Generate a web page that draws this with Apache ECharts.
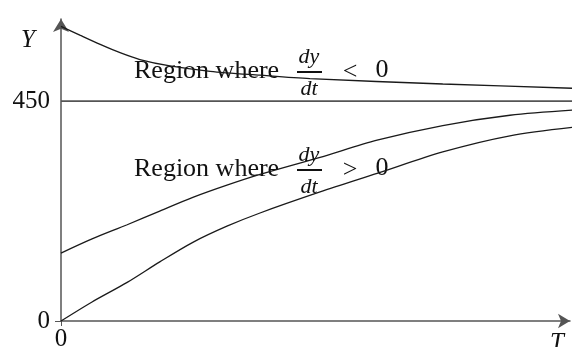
<!DOCTYPE html>
<html>
<head>
<meta charset="utf-8">
<script src="https://cdn.jsdelivr.net/npm/echarts@6/dist/echarts.min.js"></script>
<style>
  html, body { margin: 0; padding: 0; background: #fff; }
  #chart { width: 576px; height: 347px; }
</style>
</head>
<body>
<div id="chart"></div>
<script>
// 曲线数据 (t, y)
const tAbove = [0, 3.7, 7.7, 11.6, 15.5, 21.4, 29.3, 39.1, 48.9, 75, 101.2]
const yAbove = [603, 585, 566, 549, 535, 522, 511, 503, 496, 485, 476]
const tBelow = [0, 6.1, 13, 19.4, 25.9, 32.6, 39.1, 50.9, 62.1, 75, 88.2, 101.2]
const yMiddle = [139, 168, 197, 225, 253, 278, 300, 335, 370, 400, 421, 432]
const yLower = [0, 39, 79, 121, 161, 194, 221, 264, 302, 346, 379, 397]
const equilibrium = 450
const yTicks = [0, 450]
const xTicks = [0]

const serif = '"Liberation Serif", "DejaVu Serif", serif'
const zip = (xs, ys) => xs.map((x, i) => [x, ys[i]])

const chartInstance = echarts.init(document.getElementById('chart'))

const curve = (name, data) => ({
  name,
  type: 'line',
  data,
  smooth: 0.3,
  symbol: 'none',
  clip: false,
  lineStyle: { color: '#1a1a1a', width: 1.3 }
})

// 区域说明文字 (分数 dy/dt)
const regionLabel = (cy, sign) => ({
  type: 'group',
  children: [
    { type: 'text', x: 134, y: cy - 1, style: { text: 'Region where', font: '26px ' + serif, fill: '#111', verticalAlign: 'middle' } },
    { type: 'text', x: 309, y: cy - 15, style: { text: 'dy', font: 'italic 22px ' + serif, fill: '#111', align: 'center', verticalAlign: 'middle' } },
    { type: 'line', shape: { x1: 297, y1: cy, x2: 322, y2: cy }, style: { stroke: '#111', lineWidth: 2 } },
    { type: 'text', x: 309, y: cy + 17, style: { text: 'dt', font: 'italic 22px ' + serif, fill: '#111', align: 'center', verticalAlign: 'middle' } },
    { type: 'text', x: 350, y: cy, style: { text: sign, font: '26px ' + serif, fill: '#111', align: 'center', verticalAlign: 'middle' } },
    { type: 'text', x: 382, y: cy - 2, style: { text: '0', font: '26px ' + serif, fill: '#111', align: 'center', verticalAlign: 'middle' } }
  ]
})

const option = {
  animation: false,
  backgroundColor: '#fff',
  grid: { left: 61, right: 6, top: 19, bottom: 26, containLabel: false, outerBoundsMode: 'none' },
  xAxis: {
    type: 'value',
    min: 0,
    max: 100,
    name: 'T',
    nameLocation: 'end',
    nameGap: -6,
    nameTextStyle: { fontFamily: serif, fontStyle: 'italic', fontSize: 25, color: '#111', align: 'right', verticalAlign: 'top', padding: [10, 0, 0, 0] },
    axisLine: { lineStyle: { color: '#555', width: 1.5 }, symbol: ['none', 'arrow'], symbolSize: [11, 12] },
    axisTick: { show: true, customValues: xTicks, length: 5, lineStyle: { color: '#555' } },
    axisLabel: { customValues: xTicks, margin: 6, fontFamily: serif, fontSize: 25, color: '#111' },
    splitLine: { show: false }
  },
  yAxis: {
    type: 'value',
    min: 0,
    max: 618,
    name: 'Y',
    nameLocation: 'end',
    nameGap: -9,
    nameTextStyle: { fontFamily: serif, fontStyle: 'italic', fontSize: 25, color: '#111', align: 'right', verticalAlign: 'top', padding: [0, 26, 0, 0] },
    axisLine: { show: true, lineStyle: { color: '#555', width: 1.5 }, symbol: ['none', 'arrow'], symbolSize: [12, 13] },
    axisTick: { show: true, inside: false, customValues: [0], length: 6, lineStyle: { color: '#555' } },
    axisLabel: { customValues: yTicks, margin: 11, fontFamily: serif, fontSize: 25, color: '#111' },
    splitLine: { show: false }
  },
  series: [
    {
      name: 'y = 450',
      type: 'line',
      data: [[0, equilibrium], [101.2, equilibrium]],
      symbol: 'none',
      clip: false,
      lineStyle: { color: '#555', width: 1.6 }
    },
    curve('above', zip(tAbove, yAbove)),
    curve('middle', zip(tBelow, yMiddle)),
    curve('lower', zip(tBelow, yLower))
  ],
  graphic: [regionLabel(72, '<'), regionLabel(170, '>')]
}

chartInstance.setOption(option)
</script>
</body>
</html>
